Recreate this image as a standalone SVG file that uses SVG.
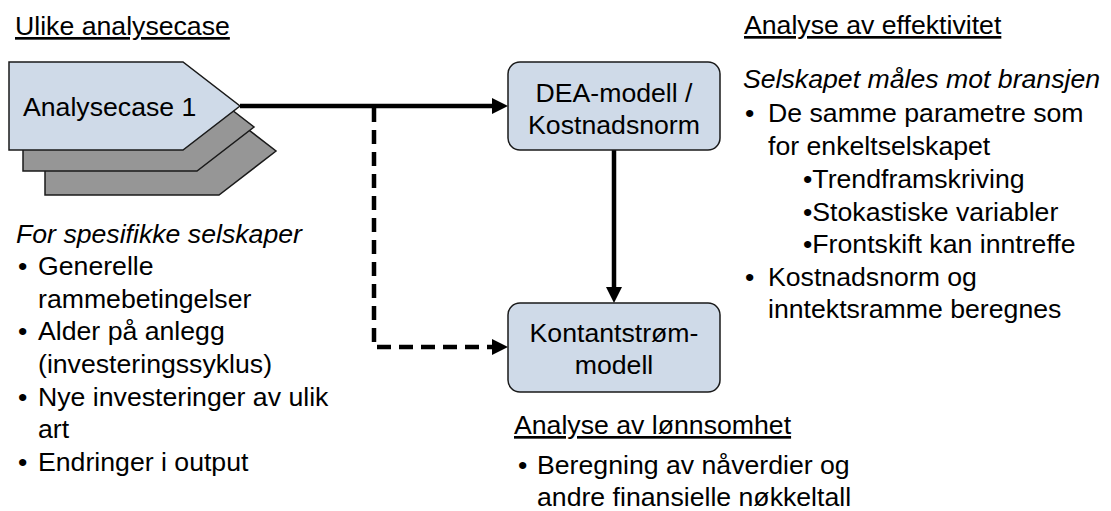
<svg xmlns="http://www.w3.org/2000/svg" width="1111" height="511" viewBox="0 0 1111 511">
<style>
text{font-family:"Liberation Sans",Arial,sans-serif;font-size:26.67px;fill:#000}
.it{font-style:italic}
.ul{text-decoration:underline}
.mid{text-anchor:middle}
.box{fill:#CFDAE8;stroke:#1a1a1a;stroke-width:1.5}
.gray{fill:#969696;stroke:#1a1a1a;stroke-width:1.5}
.solid{fill:none;stroke:#000;stroke-width:4.5}
.dash{fill:none;stroke:#000;stroke-width:4.5;stroke-dasharray:14 8}
</style>
<defs>
<marker id="ah" viewBox="0 0 16 16" refX="16" refY="8" markerWidth="16" markerHeight="16" markerUnits="userSpaceOnUse" orient="auto">
<path d="M0,0 L16,8 L0,16 z" fill="#000"/>
</marker>
</defs>

<g id="analysecase">
<polygon class="gray" points="45,107 219,107 276,151 219,195 45,195"/>
<polygon class="gray" points="23,83 197,83 254,127 197,171 23,171"/>
<polygon class="box" points="9,62 183,62 240,106 183,150 9,150"/>
<text x="23" y="116">Analysecase 1</text>
</g>

<g id="connectors">
<path class="solid" d="M240,106 H493" />
<path d="M492,98 L508,106 L492,114 z" fill="#000"/>
<path class="solid" d="M614,150 V288"/>
<path d="M606,287 L614,303 L622,287 z" fill="#000"/>
<path class="dash" d="M374,108 V347 H493"/>
<path d="M492,339 L508,347 L492,355 z" fill="#000"/>
</g>

<g id="dea">
<rect class="box" x="508" y="62" width="212" height="88" rx="12" ry="12"/>
<text class="mid" x="614" y="102">DEA-modell /</text>
<text class="mid" x="614" y="134">Kostnadsnorm</text>
</g>

<g id="kontantstrom">
<rect class="box" x="508" y="303" width="212" height="89" rx="12" ry="12"/>
<text class="mid" x="614" y="342">Kontantstrøm-</text>
<text class="mid" x="614" y="374">modell</text>
</g>

<g id="left-text">
<text class="ul" x="15" y="35">Ulike analysecase</text>
<text class="it" x="16" y="243">For spesifikke selskaper</text>
<text x="18" y="275">•</text><text x="38" y="275">Generelle</text>
<text x="38" y="308">rammebetingelser</text>
<text x="18" y="340">•</text><text x="38" y="340">Alder på anlegg</text>
<text x="38" y="373">(investeringssyklus)</text>
<text x="18" y="406">•</text><text x="38" y="406">Nye investeringer av ulik</text>
<text x="38" y="438">art</text>
<text x="18" y="471">•</text><text x="38" y="471">Endringer i output</text>
</g>

<g id="right-text">
<text class="ul" x="744" y="34">Analyse av effektivitet</text>
<text class="it" x="743" y="88">Selskapet måles mot bransjen</text>
<text x="745" y="122">•</text><text x="768" y="122">De samme parametre som</text>
<text x="768" y="155">for enkeltselskapet</text>
<text x="803" y="188">•Trendframskriving</text>
<text x="803" y="221">•Stokastiske variabler</text>
<text x="803" y="253">•Frontskift kan inntreffe</text>
<text x="745" y="286">•</text><text x="768" y="286">Kostnadsnorm og</text>
<text x="768" y="318">inntektsramme beregnes</text>
</g>

<g id="bottom-text">
<text class="ul" x="514" y="434">Analyse av lønnsomhet</text>
<text x="518" y="474">•</text><text x="537" y="474">Beregning av nåverdier og</text>
<text x="537" y="506">andre finansielle nøkkeltall</text>
</g>
</svg>
